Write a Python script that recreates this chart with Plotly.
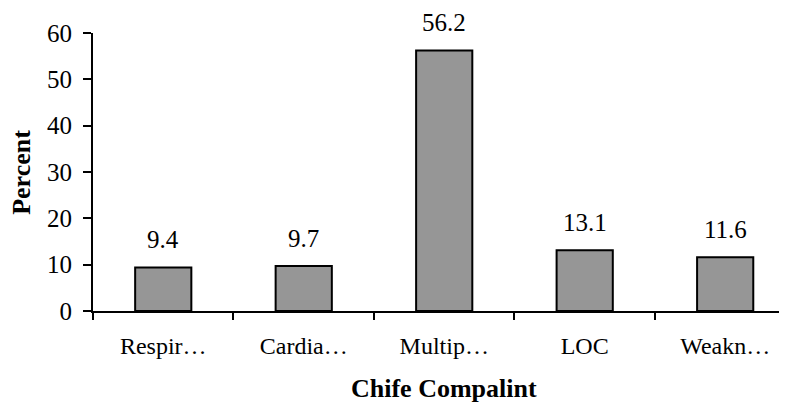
import plotly.graph_objects as go

categories = ["Respir…", "Cardia…", "Multip…", "LOC", "Weakn…"]
values = [9.4, 9.7, 56.2, 13.1, 11.6]
value_labels = ["9.4", "9.7", "56.2", "13.1", "11.6"]
y_ticks = [0, 10, 20, 30, 40, 50, 60]

FONT = "Liberation Serif"

fig = go.Figure()
fig.add_trace(go.Bar(
    x=categories, y=values,
    marker=dict(color="#969696", line=dict(color="black", width=2)),
    width=0.4,
    hoverinfo="skip",
))

annotations = []
for c, v, t in zip(categories, values, value_labels):
    annotations.append(dict(x=c, y=v, text=t, showarrow=False, xref="x", yref="y",
                            yanchor="middle", yshift=28,
                            font=dict(family=FONT, size=25, color="black")))
annotations.append(dict(x=0.506, y=-0.277, xref="paper", yref="paper", text="<b>Chife Compalint</b>",
                        showarrow=False, yanchor="middle", xanchor="center",
                        font=dict(family=FONT, size=26, color="black")))
annotations.append(dict(x=-0.104, y=0.5, xref="paper", yref="paper", text="<b>Percent</b>",
                        showarrow=False, textangle=-90, yanchor="middle", xanchor="center",
                        font=dict(family=FONT, size=26, color="black")))

# page body has an 8px default margin, so the figure is sized and placed to compensate
fig.update_layout(
    width=779, height=395,
    margin=dict(l=85, r=0, t=25, b=92),
    paper_bgcolor="white", plot_bgcolor="white",
    showlegend=False,
    font=dict(family=FONT),
    annotations=annotations,
    xaxis=dict(
        type="category",
        range=[-0.5, 4.44],
        automargin=False,
        showline=True, linecolor="black", linewidth=2,
        ticks="outside", ticklen=7, tickwidth=2, tickcolor="black",
        tickson="boundaries",
        showgrid=False, zeroline=False,
        ticklabelstandoff=12,
        tickfont=dict(family=FONT, size=24, color="black"),
    ),
    yaxis=dict(
        range=[0, 60],
        tickvals=y_ticks,
        automargin=False,
        showline=True, linecolor="black", linewidth=2,
        ticks="outside", ticklen=8, tickwidth=2, tickcolor="black",
        showgrid=False, zeroline=False,
        ticklabelstandoff=6,
        tickfont=dict(family=FONT, size=25, color="black"),
    ),
)

fig.write_html("out.html")
